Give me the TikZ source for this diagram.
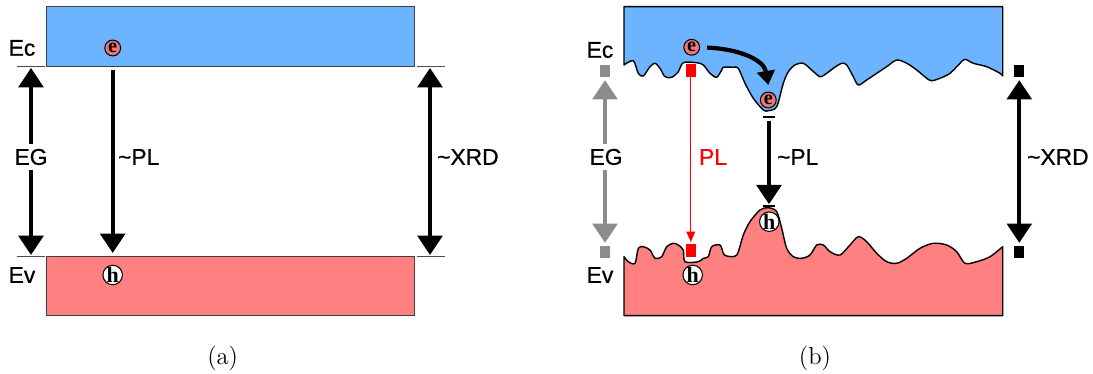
\documentclass[tikz,border=0pt]{standalone}
\usepackage{fontspec}
\newfontfamily\labfont[FakeBold=0.6]{Liberation Sans}
\newfontfamily\dotfont{Liberation Serif}
\usetikzlibrary{arrows.meta,positioning}
\definecolor{bandblue}{RGB}{108,180,255}
\definecolor{bandred}{RGB}{255,128,128}
\definecolor{dotred}{RGB}{240,118,118}
\definecolor{eggray}{RGB}{140,140,140}

\begin{document}
\begin{tikzpicture}[x=0.02cm, y=-0.02cm,
    lab/.style={font=\labfont\fontsize{13}{15}\selectfont, inner sep=1pt},
    panelcap/.style={font=\fontsize{14}{16}\selectfont, inner sep=0pt},
    edot/.style={circle, draw, line width=0.6pt, fill=dotred, minimum size=9pt, inner sep=0pt, font=\dotfont\bfseries\fontsize{11.5}{11}\selectfont},
    hdot/.style={circle, draw, line width=0.6pt, fill=white, minimum size=11pt, inner sep=0pt, font=\dotfont\bfseries\fontsize{12.5}{12}\selectfont},
    sq/.style={minimum width=5.8pt, minimum height=7.2pt, inner sep=0pt},
    big/.style={line width=2.3pt, -{Triangle[length=11pt,width=14pt]}},
    bigboth/.style={line width=2.3pt, {Triangle[length=11pt,width=14pt]}-{Triangle[length=11pt,width=14pt]}},
    tickln/.style={black!70, line width=0.6pt},
    wave/.style={line width=0.8pt, line join=round}]
    \useasboundingbox (0,0) rectangle (1093,374);

    % (a) flat bands
    \draw[fill=bandblue, draw=black!75, line width=0.7pt] (46.3,6.7) rectangle (414.3,66.7);
    \draw[fill=bandred, draw=black!75, line width=0.7pt] (46.3,256.7) rectangle (414.3,315.7);
    \draw[tickln] (17,66.7) -- (45,66.7);
    \draw[tickln] (417,66.7) -- (445,66.7);
    \draw[tickln] (17,256.7) -- (45,256.7);
    \draw[tickln] (417,256.7) -- (445,256.7);
    \node[lab] (aEc) at (22,48) {Ec};
    \node[lab] (aEv) at (22,275) {Ev};
    \node[edot] (ae) at (112.7,48) {e};
    \node[hdot] (ah) at (112.7,275) {h};

    % (a) arrows
    \coordinate (aEGt) at (31,68);
    \coordinate (aEGb) at (31,255);
    \coordinate (aPLt) at (112.7,70);
    \coordinate (aPLb) at (112.7,253);
    \coordinate (aXt) at (430,68);
    \coordinate (aXb) at (430,255);
    \draw[bigboth] (aEGt) -- (aEGb);
    \draw[big] (aPLt) -- (aPLb);
    \draw[bigboth] (aXt) -- (aXb);
    \node[lab, fill=white, inner ysep=3pt] (aEG) at (31,157) {EG};
    \node[lab, anchor=west] (aPL) at (116,157) {\textasciitilde PL};
    \node[lab, anchor=west] (aXRD) at (435,157) {\textasciitilde XRD};
    \node[panelcap] (capa) at (222.7,358) {(a)};

    % (b) rough bands
    \filldraw[fill=bandblue, wave] (624,6.7) -- plot[smooth, tension=0.5] coordinates {
        (624,65) (633.3,60.7) (638.3,73.3) (643.3,76) (650,66.7) (655,63.3) (660,68.3)
        (665,76.7) (671.7,77.3) (678.3,71.7) (683.3,62.7) (696.7,62.7) (703.3,65)
        (710,73.3) (716.7,77.3) (721.7,70) (723.3,67.3) (733.3,67.3) (738.3,68.3)
        (745,83.3) (753.3,98.3) (763.3,110) (768.3,110.7) (776.7,106.7) (783.3,83.3)
        (788.3,71.7) (795,65) (803.3,63.3) (811.7,70) (820,76.7) (826.7,73.3)
        (833.3,68.3) (841.7,63.3) (846.7,65) (853.3,76.7) (858.3,85) (866.7,80)
        (876.7,73.3) (886.7,66.7) (896.7,60) (906.7,63.3) (916.7,70) (926.7,78.3)
        (931.7,80.7) (940,78.3) (950,73.3) (960,63.3) (965,59.3) (973.3,63.3)
        (986.7,66.7) (1000,73.3) (1002.7,76)} -- (1002.7,6.7) -- cycle;
    \filldraw[fill=bandred, wave] (624,315.7) -- plot[smooth, tension=0.5] coordinates {
        (624,256.7) (628.3,261.7) (635,263.3) (638.3,248.3) (643.3,246.7) (650,250)
        (655,258.3) (661.7,256.7) (666.7,246.7) (673.3,243.3) (678.3,245) (683.3,250)
        (685,261.7) (698.3,261.7) (703.3,258.3) (708.3,256.7) (711.7,246.7) (720,245)
        (723.3,253.3) (726.7,256) (736.7,255) (743.3,235) (750,221.7) (760,210)
        (768.3,207.7) (776.7,211.7) (781.7,228.3) (786.7,248.3) (793.3,256.7)
        (801.7,258.3) (810,255) (816.7,245) (823.3,245) (830,251.7) (840,255)
        (850,245) (858.3,236.7) (866.7,241.7) (876.7,253.3) (886.7,261.7)
        (896.7,263.3) (906.7,258.3) (920,248.3) (933.3,243.3) (946.7,245)
        (956.7,251.7) (965,263.3) (976.7,261.7) (990,256.7) (1002.7,246.7)} -- (1002.7,315.7) -- cycle;
    \node[lab] (bEc) at (600,50) {Ec};
    \node[lab] (bEv) at (600,275) {Ev};

    % (b) carriers
    \node[edot] (be1) at (691.7,47.3) {e};
    \node[edot] (be2) at (768.3,100) {e};
    \node[hdot] (bh1) at (769.3,221.7) {h};
    \node[hdot] (bh2) at (692.7,275) {h};
    \coordinate (bdrop) at (768.3,85);
    \draw[line width=2.4pt, shorten <=4pt, -{Triangle[length=8pt,width=10pt]}] (be1.east) .. controls (740,49) and (764,60) .. (bdrop);

    % (b) markers
    \node[sq, fill=eggray] (gsqT) at (605,71) {};
    \node[sq, fill=eggray] (gsqB) at (605,252) {};
    \node[sq, fill=red] (rsqT) at (690.8,70.8) {};
    \node[sq, fill=red] (rsqB) at (690.8,250.5) {};
    \node[sq, fill=black] (ksqT) at (1019.3,71) {};
    \node[sq, fill=black] (ksqB) at (1019.3,252) {};
    \coordinate (tkE) at (769,117);
    \coordinate (tkH) at (769,206);
    \draw[line width=0.8pt] (tkE) ++(-6,0) -- ++(12,0);
    \draw[line width=0.8pt] (tkH) ++(-6,0) -- ++(12,0);

    % (b) arrows
    \draw[bigboth, draw=eggray, fill=eggray, shorten <=1.4pt, shorten >=1.4pt] (gsqT) -- (gsqB);
    \draw[red, line width=0.6pt, shorten >=1pt, -{Triangle[length=6pt,width=5pt]}] (rsqT) -- (rsqB);
    \draw[big, shorten <=2pt, shorten >=1pt] (tkE) -- (tkH);
    \draw[bigboth, shorten <=1.4pt, shorten >=1.4pt] (ksqT) -- (ksqB);
    \node[lab, fill=white, inner ysep=3pt] (bEG) at (606,157) {EG};
    \node[lab, anchor=west, text=red] (bPL) at (697,157) {PL};
    \node[lab, anchor=west] (bPL2) at (775,157) {\textasciitilde PL};
    \node[lab, anchor=west] (bXRD) at (1025,157) {\textasciitilde XRD};
    \node[panelcap] (capb) at (815,358) {(b)};
\end{tikzpicture}
\end{document}
